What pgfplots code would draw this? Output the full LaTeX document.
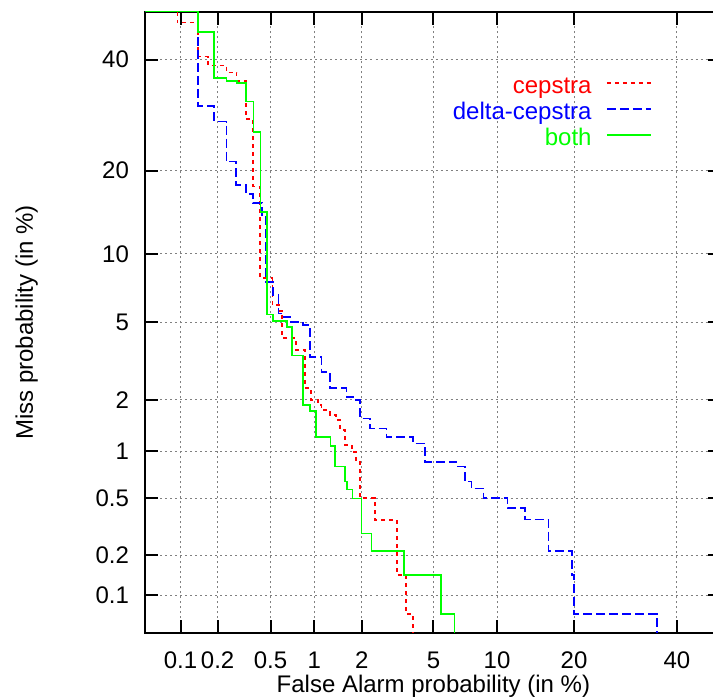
\documentclass[border=0pt]{standalone}
\usepackage{fontspec}
\setmainfont{Liberation Sans}
\usepackage{pgfplots}
\usepackage{pgfplotstable}
\pgfplotsset{compat=1.18}
\usetikzlibrary{calc}

% DET curves: false alarm / miss rates in percent, one row per step
\pgfplotstableread{
fa miss
0.05 50
0.094 47.68
0.140 40.60
0.1675 38.75
0.235 37.35
0.281 35.70
0.330 28.47
0.374 17.74
0.419 7.94
0.516 6.02
0.574 5.65
0.603 4.20
0.754 3.66
0.868 2.32
0.951 1.989
1.059 1.866
1.12 1.749
1.265 1.636
1.385 1.531
1.466 1.339
1.575 1.089
1.741 0.987
1.841 0.858
1.945 0.504
2.39 0.356
3.19 0.143
3.58 0.0717
3.91 0.05
}\cepstra

\pgfplotstableread{
fa miss
0.05 50
0.140 30.88
0.187 28.03
0.235 21.36
0.277 17.96
0.330 16.75
0.374 15.54
0.434 14.11
0.464 7.645
0.522 6.685
0.568 5.52
0.616 5.32
0.686 5.04
0.845 4.86
0.938 3.38
1.119 2.83
1.265 2.32
1.614 2.075
1.816 1.989
1.945 1.566
2.235 1.370
2.79 1.221
3.91 1.115
4.52 0.860
6.53 0.801
7.14 0.643
7.67 0.581
8.72 0.504
11.09 0.432
13.12 0.360
16.16 0.216
19.66 0.143
20.03 0.0717
35.62 0.05
}\deltacep

\pgfplotstableread{
fa miss
0.05 50
0.140 45.66
0.187 36.24
0.235 35.70
0.283 35.25
0.330 31.70
0.377 26.19
0.423 14.44
0.473 5.46
0.522 5.07
0.653 4.77
0.710 3.45
0.845 1.866
0.938 1.733
1.027 1.221
1.278 1.08
1.363 0.801
1.575 0.644
1.62 0.571
1.758 0.50
1.991 0.287
2.29 0.215
3.49 0.143
5.47 0.0717
6.36 0.05
}\both

\begin{document}
\begin{tikzpicture}[font=\fontsize{12}{14}\selectfont,
  declare function={
    tt(\p)=sqrt(-2*ln(\p/100));
    probit(\p)=-(tt(\p)-(2.515517+0.802853*tt(\p)+0.010328*tt(\p)^2)/(1+1.432788*tt(\p)+0.189269*tt(\p)^2+0.001308*tt(\p)^3));
  }]
\begin{axis}[
  name=ax,
  scale only axis,
  width=287.9pt, height=310.8pt,
  xmin=-3.2905, xmax=0, ymin=-3.2905, ymax=0,
  xtick={-3.0902,-2.8782,-2.5758,-2.3263,-2.0537,-1.6449,-1.2816,-0.8416,-0.2533},
  xticklabels={0.1,0.2,0.5,1,2,5,10,20,40},
  ytick={-3.0902,-2.8782,-2.5758,-2.3263,-2.0537,-1.6449,-1.2816,-0.8416,-0.2533},
  yticklabels={0.1,0.2,0.5,1,2,5,10,20,40},
  tick align=inside, tick pos=both,
  major tick length=6.5pt,
  tick style={black, line width=1pt},
  axis line style={line width=1pt},
  grid=major,
  grid style={gray, line width=0.5pt, dash pattern=on 1pt off 1.5pt},
  xticklabel style={yshift=-5.8pt},
  yticklabel style={xshift=-4.75pt},
  xlabel={False Alarm probability (in \%)},
  ylabel={Miss probability (in \%)},
  xlabel style={at={(axis description cs:0.5,-0.096)}, anchor=base},
  ylabel style={at={(axis description cs:-0.1954,0.5)}, anchor=base},
  legend plot pos=right,
  legend cell align=right,
  legend style={draw=none, fill=none, at={(axis description cs:0.890,0.9065)},
    anchor=north east, row sep=0pt, column sep=7pt,
    nodes={inner sep=0.25pt, text height=9.3pt, text depth=3.2pt}},
  legend image code/.code={\draw[#1] (0pt,2.2pt) -- (22pt,2.2pt);},
]
\addplot[const plot mark left, draw=red, line width=0.75pt, dash pattern=on 2pt off 2pt]
  table[x expr={probit(\thisrow{fa})}, y expr={probit(\thisrow{miss})}] {\cepstra};
\addlegendentry[text=red]{cepstra}
\addplot[const plot mark left, draw=blue, line width=0.75pt, dash pattern=on 4.5pt off 2pt]
  table[x expr={probit(\thisrow{fa})}, y expr={probit(\thisrow{miss})}] {\deltacep};
\addlegendentry[text=blue]{delta-cepstra}
\addplot[const plot mark left, draw=green, line width=0.75pt]
  table[x expr={probit(\thisrow{fa})}, y expr={probit(\thisrow{miss})}] {\both};
\addlegendentry[text=green]{both}
\end{axis}
\pgfresetboundingbox
\path[use as bounding box] ($(ax.south west)+(-72.75pt,-31.85pt)$) rectangle ++(356.5pt,348.5pt);
\end{tikzpicture}
\end{document}
